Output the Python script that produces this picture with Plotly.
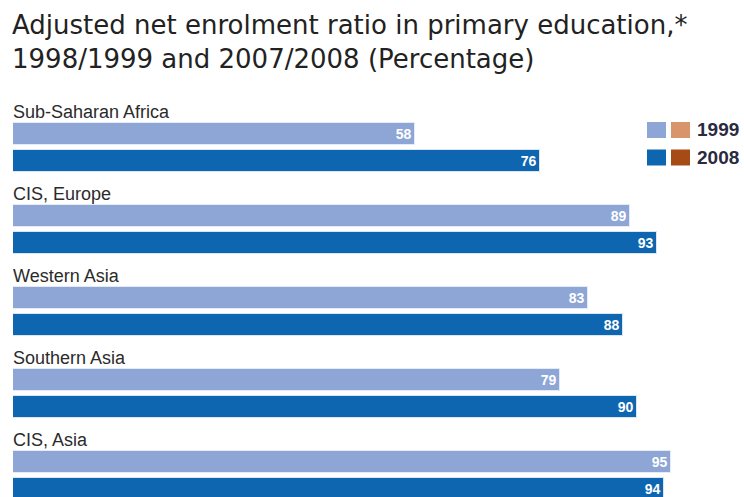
import plotly.graph_objects as go

regions = ["Sub-Saharan Africa", "CIS, Europe", "Western Asia", "Southern Asia", "CIS, Asia"]
v1999 = [58, 89, 83, 79, 95]
v2008 = [76, 93, 88, 90, 94]

C1999 = "#8DA6D6"
C2008 = "#0F66B0"
O1999 = "#D8946A"
O2008 = "#A64B16"

W, H = 744, 497
L, R = 13, 38
PW = W - L - R


def px(xp):
    return (xp - L) / PW


def py(yp):
    return 1 - yp / H


# layout spacing (pixel-like units on a reversed y axis)
G = 82.0
Y1 = 134.0
Y2 = 161.0
YL = 112.0
BW = 22

idx = list(range(len(regions)))
y99 = [Y1 + G * i for i in idx]
y08 = [Y2 + G * i for i in idx]

VALFONT = dict(color="white", size=14, family="Liberation Sans, Arial, sans-serif", weight="bold")

fig = go.Figure()
fig.add_trace(go.Bar(
    x=v1999, y=y99, orientation="h", width=BW,
    marker=dict(color=C1999, line=dict(color="#E4EAF6", width=1)),
    text=[str(v) for v in v1999], textposition="inside", insidetextanchor="end",
    textfont=VALFONT, showlegend=False, hoverinfo="skip",
))
fig.add_trace(go.Bar(
    x=v2008, y=y08, orientation="h", width=BW,
    marker=dict(color=C2008, line=dict(color="#DCE6F2", width=1)),
    text=[str(v) for v in v2008], textposition="inside", insidetextanchor="end",
    textfont=VALFONT, showlegend=False, hoverinfo="skip",
))

for i, r in enumerate(regions):
    fig.add_annotation(
        x=0, y=YL + G * i, xref="x", yref="y", text=r, showarrow=False,
        xanchor="left", yanchor="middle", xshift=-2,
        font=dict(size=18, color="#2B2B2B", family="Liberation Sans, Arial, sans-serif"),
    )

fig.add_annotation(
    x=px(12), y=py(8), xref="paper", yref="paper", xanchor="left", yanchor="top",
    text="Adjusted net enrolment ratio in primary education,*<br>1998/1999 and 2007/2008 (Percentage)",
    showarrow=False, align="left", xshift=-2,
    font=dict(size=26, color="#222222", family="DejaVu Sans, sans-serif"),
)

# legend drawn manually
shapes = []
legend_rows = [("1999", C1999, O1999, 130), ("2008", C2008, O2008, 157.5)]
for lab, cb, co, yc in legend_rows:
    shapes.append(dict(type="rect", xref="paper", yref="paper",
                       x0=px(647), x1=px(666), y0=py(yc + 8), y1=py(yc - 8),
                       fillcolor=cb, line=dict(width=0)))
    shapes.append(dict(type="rect", xref="paper", yref="paper",
                       x0=px(671), x1=px(690), y0=py(yc + 8), y1=py(yc - 8),
                       fillcolor=co, line=dict(width=0)))
    fig.add_annotation(
        x=px(696), y=py(yc), xref="paper", yref="paper", xanchor="left", yanchor="middle",
        text="<b>" + lab + "</b>", showarrow=False, xshift=-1,
        font=dict(size=19, color="#2A2A40", family="Liberation Sans, Arial, sans-serif"),
    )

fig.update_layout(
    width=W, height=H,
    margin=dict(l=L, r=R, t=0, b=0),
    paper_bgcolor="white", plot_bgcolor="white",
    xaxis=dict(range=[0, 100], visible=False, fixedrange=True),
    yaxis=dict(range=[H, 0], visible=False, fixedrange=True),
    barmode="overlay", bargap=0,
    shapes=shapes,
    uniformtext=dict(minsize=14, mode="show"),
)

fig.write_html("out.html")
